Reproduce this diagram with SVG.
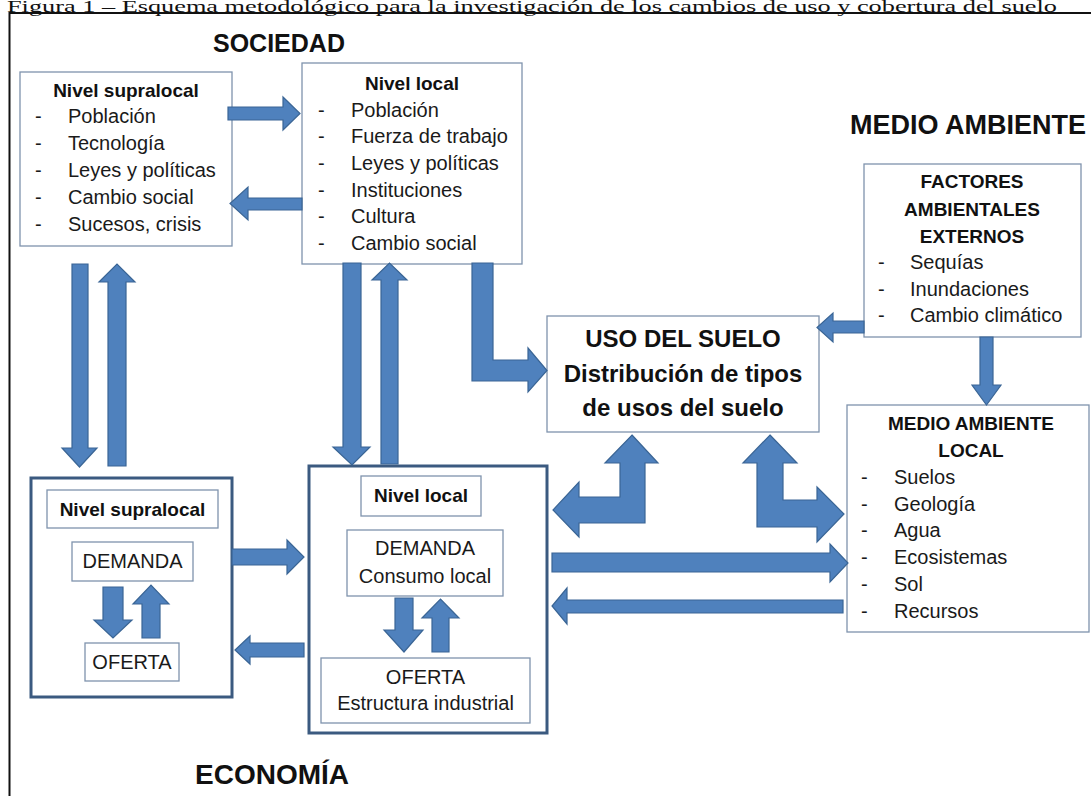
<svg xmlns="http://www.w3.org/2000/svg" width="1091" height="796" viewBox="0 0 1091 796">
<style>
.bg{fill:#ffffff}
.frame{fill:none;stroke:#111;stroke-width:2}
.cap{font-family:"Liberation Serif","Times New Roman",serif;font-size:16px;fill:#111}
.thin{fill:#fff;stroke:#7f93ad;stroke-width:1.3}
.thick{fill:#fff;stroke:#3b5a80;stroke-width:3}
.t{font-family:"Liberation Sans",Arial,sans-serif;font-size:20px;fill:#1a1a1a}
.b{font-family:"Liberation Sans",Arial,sans-serif;font-size:19px;font-weight:bold;fill:#111}
.c{text-anchor:middle}
.big{font-family:"Liberation Sans",Arial,sans-serif;font-weight:bold;fill:#111}
.uso{font-family:"Liberation Sans",Arial,sans-serif;font-size:24px;font-weight:bold;fill:#111;text-anchor:middle}
.arr{fill:#4f81bd;stroke:#3a6595;stroke-width:1.2;stroke-linejoin:miter}
</style>
<rect class="bg" x="0" y="0" width="1091" height="796"/>
<text class="cap" x="7" y="12" textLength="1050" lengthAdjust="spacingAndGlyphs">Figura 1 – Esquema metodológico para la investigación de los cambios de uso y cobertura del suelo</text>
<path class="frame" d="M9.5,800 V13 H1095"/>

<g id="label-sociedad"><text class="big" x="213" y="52" font-size="25">SOCIEDAD</text></g>
<g id="label-medio-ambiente"><text class="big" x="850" y="134" font-size="27">MEDIO AMBIENTE</text></g>
<g id="label-economia"><text class="big" x="195" y="784" font-size="28">ECONOMÍA</text></g>

<g id="soc-supralocal">
<rect class="thin" x="20" y="72" width="212" height="174"/>
<text class="b c" x="126" y="97">Nivel supralocal</text>
<text class="t" y="123"><tspan x="35">-</tspan><tspan x="68">Población</tspan></text>
<text class="t" y="150"><tspan x="35">-</tspan><tspan x="68">Tecnología</tspan></text>
<text class="t" y="177"><tspan x="35">-</tspan><tspan x="68">Leyes y políticas</tspan></text>
<text class="t" y="204"><tspan x="35">-</tspan><tspan x="68">Cambio social</tspan></text>
<text class="t" y="231"><tspan x="35">-</tspan><tspan x="68">Sucesos, crisis</tspan></text>
</g>

<g id="soc-local">
<rect class="thin" x="302" y="63" width="220" height="201"/>
<text class="b c" x="412" y="90">Nivel local</text>
<text class="t" y="117"><tspan x="318">-</tspan><tspan x="351">Población</tspan></text>
<text class="t" y="143"><tspan x="318">-</tspan><tspan x="351">Fuerza de trabajo</tspan></text>
<text class="t" y="170"><tspan x="318">-</tspan><tspan x="351">Leyes y políticas</tspan></text>
<text class="t" y="197"><tspan x="318">-</tspan><tspan x="351">Instituciones</tspan></text>
<text class="t" y="223"><tspan x="318">-</tspan><tspan x="351">Cultura</tspan></text>
<text class="t" y="250"><tspan x="318">-</tspan><tspan x="351">Cambio social</tspan></text>
</g>

<g id="factores">
<rect class="thin" x="864" y="164" width="217" height="173"/>
<text class="b c" x="972" y="188">FACTORES</text>
<text class="b c" x="972" y="216">AMBIENTALES</text>
<text class="b c" x="972" y="243">EXTERNOS</text>
<text class="t" y="269"><tspan x="878">-</tspan><tspan x="910">Sequías</tspan></text>
<text class="t" y="296"><tspan x="878">-</tspan><tspan x="910">Inundaciones</tspan></text>
<text class="t" y="322"><tspan x="878">-</tspan><tspan x="910">Cambio climático</tspan></text>
</g>

<g id="uso-suelo">
<rect class="thin" x="547" y="316" width="272" height="116"/>
<text class="uso" x="683" y="347">USO DEL SUELO</text>
<text class="uso" x="683" y="382">Distribución de tipos</text>
<text class="uso" x="683" y="416">de usos del suelo</text>
</g>

<g id="ma-local">
<rect class="thin" x="847" y="405" width="242" height="227"/>
<text class="b c" x="971" y="430">MEDIO AMBIENTE</text>
<text class="b c" x="971" y="457">LOCAL</text>
<text class="t" y="484"><tspan x="861">-</tspan><tspan x="894">Suelos</tspan></text>
<text class="t" y="511"><tspan x="861">-</tspan><tspan x="894">Geología</tspan></text>
<text class="t" y="537"><tspan x="861">-</tspan><tspan x="894">Agua</tspan></text>
<text class="t" y="564"><tspan x="861">-</tspan><tspan x="894">Ecosistemas</tspan></text>
<text class="t" y="591"><tspan x="861">-</tspan><tspan x="894">Sol</tspan></text>
<text class="t" y="618"><tspan x="861">-</tspan><tspan x="894">Recursos</tspan></text>
</g>

<g id="eco-supralocal">
<rect class="thick" x="31" y="478" width="201" height="219"/>
<rect class="thin" x="47" y="490" width="171" height="38"/>
<text class="b c" x="132.5" y="516">Nivel supralocal</text>
<rect class="thin" x="72" y="542" width="121" height="39"/>
<text class="t c" x="132.5" y="568">DEMANDA</text>
<rect class="thin" x="85" y="643" width="94" height="38"/>
<text class="t c" x="132" y="669">OFERTA</text>
</g>

<g id="eco-local">
<rect class="thick" x="309" y="466" width="238" height="267"/>
<rect class="thin" x="361" y="476" width="120" height="40"/>
<text class="b c" x="421" y="502">Nivel local</text>
<rect class="thin" x="347" y="530" width="156" height="66"/>
<text class="t c" x="425" y="555">DEMANDA</text>
<text class="t c" x="425" y="583">Consumo local</text>
<rect class="thin" x="321" y="658" width="209" height="65"/>
<text class="t c" x="425.5" y="684">OFERTA</text>
<text class="t c" x="425.5" y="710">Estructura industrial</text>
</g>

<g id="connectors">
<path class="arr" d="M228,107 H283 V97 L300,113.5 L283,130 V120 H228 Z"/>
<path class="arr" d="M302,198 H248 V187 L230,203.5 L248,220 V210 H302 Z"/>
<path class="arr" d="M72,264 H88 V448 H97 L79.5,467 L62,448 H72 Z"/>
<path class="arr" d="M108,466 V282 H99 L117,264 L135,282 H126 V466 Z"/>
<path class="arr" d="M343,263 H361 V447 H370 L352,465 L333,447 H343 Z"/>
<path class="arr" d="M381,464 V280 H372 L389.5,263 L407,280 H398 V464 Z"/>
<path class="arr" d="M472,263 H493 V360 H528 V348 L547,370.5 L528,392 V381 H472 Z"/>
<path class="arr" d="M864,321 H833 V313 L817,327.5 L833,342 V333 H864 Z"/>
<path class="arr" d="M980,337 H993 V385 H1001 L986.5,405 L972,385 H980 Z"/>
<path class="arr" d="M232,549 H287 V540 L304,557 L287,574 V565 H232 Z"/>
<path class="arr" d="M304,643 H250 V636 L235,650 L250,664 V657 H304 Z"/>
<path class="arr" d="M632,435 L658,463 H645 V523 H579 V537 L553,510 L579,482 V497 H620 V463 H605 Z"/>
<path class="arr" d="M770,435 L797,463 H783 V500 H817 V487 L844,514 L817,542 V527 H757 V463 H743 Z"/>
<path class="arr" d="M552,553 H830 V544 L848,563 L830,582 V572 H552 Z"/>
<path class="arr" d="M843,600 H567 V588 L552,606 L567,624 V613 H843 Z"/>
<path class="arr" d="M103,587 H123 V620 H132 L113,638 L94,620 H103 Z"/>
<path class="arr" d="M142,638 V604 H133 L151,585 L169,604 H160 V638 Z"/>
<path class="arr" d="M395,598 H413 V630 H423 L404,652 L384,630 H395 Z"/>
<path class="arr" d="M432,652 V618 H422 L440.5,599 L459,618 H449 V652 Z"/>
</g>
</svg>
